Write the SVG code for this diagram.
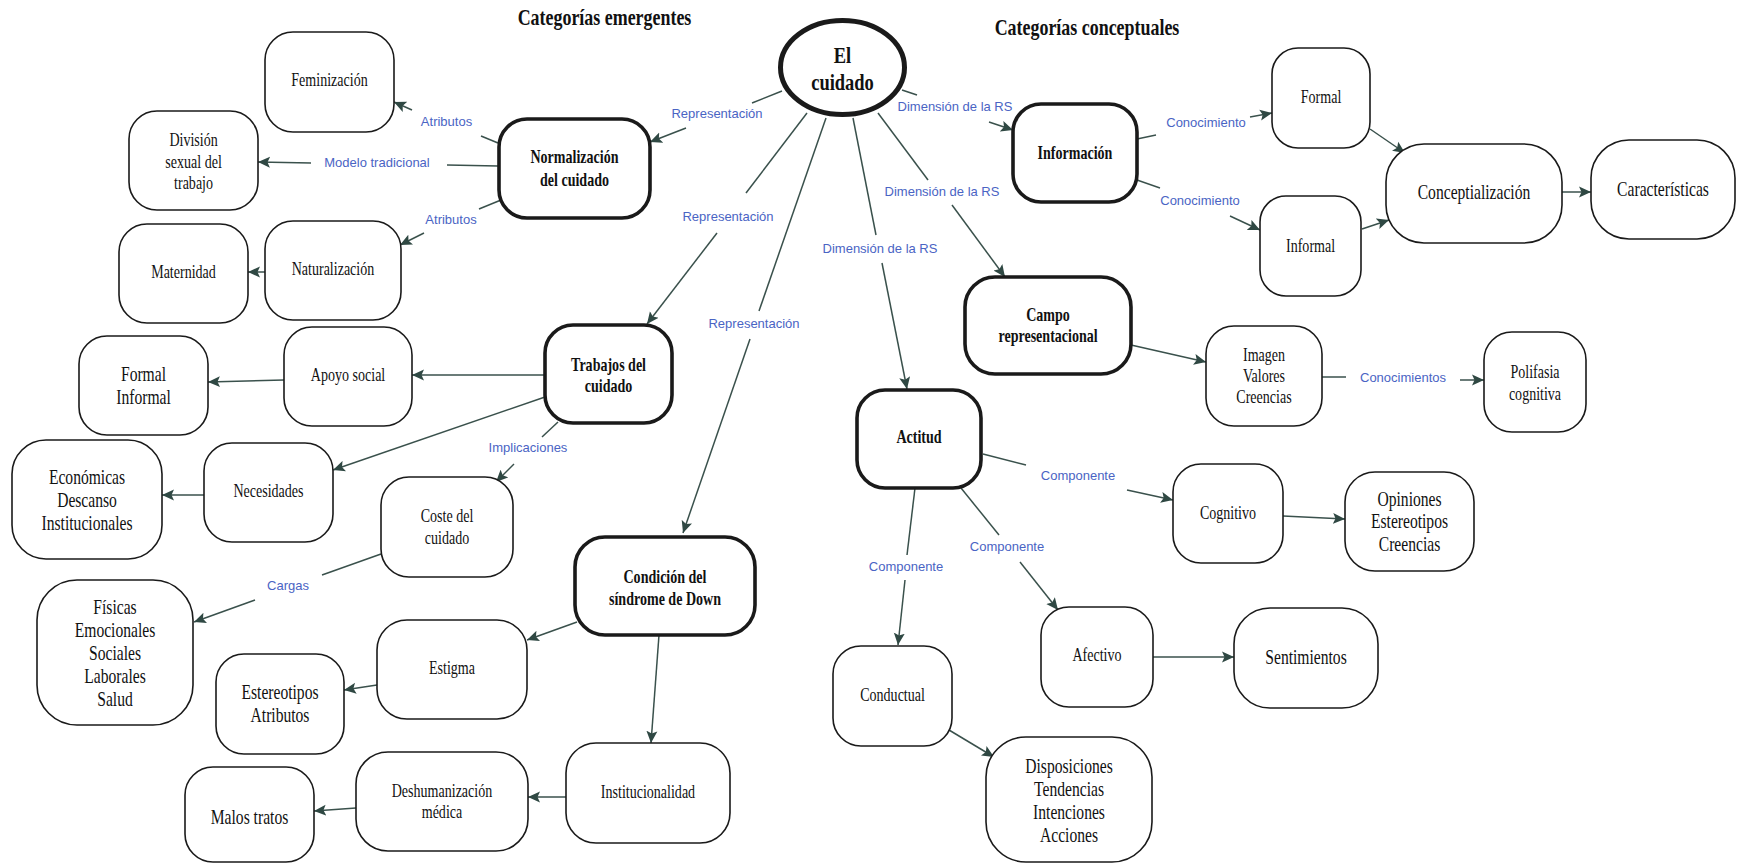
<svg xmlns="http://www.w3.org/2000/svg" width="1738" height="864" viewBox="0 0 1738 864">
  <style>
    .bg { fill: #ffffff; }
    .node rect, .node ellipse { fill: #ffffff; stroke: #1a1a1a; stroke-width: 1.6; }
    .key rect { stroke-width: 3.6; }
    .root ellipse { stroke-width: 5; }
    .nt { font-family: "Liberation Serif", "Times New Roman", serif; fill: #111111; text-anchor: middle;
          transform-box: fill-box; transform-origin: center; transform: scaleX(0.78); }
    .s18 { font-size: 18px; }
    .s20 { font-size: 20px; }
    .b { font-weight: bold; }
    .title { font-family: "Liberation Serif", "Times New Roman", serif; font-weight: bold; font-size: 23px; fill: #111111;
             text-anchor: middle; transform-box: fill-box; transform-origin: center; transform: scaleX(0.78); }
    .rootText { font-family: "Liberation Serif", "Times New Roman", serif; font-weight: bold; font-size: 24px; fill: #111111;
                text-anchor: middle; transform-box: fill-box; transform-origin: center; transform: scaleX(0.77); }
    .links path { fill: none; stroke: #3a514c; stroke-width: 1.5; }
    .links path.arr { marker-end: url(#head); }
    .lbl { font-family: "Liberation Sans", Arial, sans-serif; font-size: 13px; fill: #4a64c4; text-anchor: middle; }
  </style>
  <defs>
    <marker id="head" markerUnits="userSpaceOnUse" markerWidth="14" markerHeight="12" refX="12" refY="6" orient="auto">
      <path d="M0,0.5 L12,6 L0,11.5 L2.5,6 z" fill="#2f4843"/>
    </marker>
  </defs>

  <rect class="bg" x="0" y="0" width="1738" height="864"/>

  <!-- headings -->
  <text class="title" x="604.5" y="25">Categorías emergentes</text>
  <text class="title" x="1087" y="35">Categorías conceptuales</text>

  <!-- connectors and their labels -->
  <g id="connectors" class="links">
    <!-- El cuidado -> Normalización -->
    <path d="M782,91 L752,103"/><path class="arr" d="M686,128 L650,142"/>
    <text class="lbl" x="717" y="117.5">Representación</text>
    <!-- Normalización -> Feminización -->
    <path d="M498,143 L481,136"/><path class="arr" d="M412,110 L394,102"/>
    <text class="lbl" x="446.5" y="126">Atributos</text>
    <!-- Normalización -> División sexual del trabajo -->
    <path d="M498,166 L447,165"/><path class="arr" d="M311,163 L258,162"/>
    <text class="lbl" x="377" y="166.5">Modelo tradicional</text>
    <!-- Normalización -> Naturalización -->
    <path d="M501,200 L479,209"/><path class="arr" d="M424,233 L400,245"/>
    <text class="lbl" x="451" y="223.5">Atributos</text>
    <!-- Naturalización -> Maternidad -->
    <path class="arr" d="M265,272 L248,272"/>
    <!-- El cuidado -> Trabajos del cuidado -->
    <path d="M807,113 L746,193"/><path class="arr" d="M717,233 L647,324"/>
    <text class="lbl" x="728" y="220.5">Representación</text>
    <!-- El cuidado -> Condición del síndrome de Down -->
    <path d="M826,118 L759,311"/><path class="arr" d="M750,339 L683,533"/>
    <text class="lbl" x="754" y="327.5">Representación</text>
    <!-- El cuidado -> Actitud -->
    <path d="M853,118 L876,235"/><path class="arr" d="M882,263 L907,389"/>
    <text class="lbl" x="880" y="252.5">Dimensión de la RS</text>
    <!-- El cuidado -> Campo representacional -->
    <path d="M878,113 L928,180"/><path class="arr" d="M952,205 L1005,277"/>
    <text class="lbl" x="942" y="195.5">Dimensión de la RS</text>
    <!-- El cuidado -> Información -->
    <path d="M902,90 L917,95"/><path class="arr" d="M989,122 L1013,130"/>
    <text class="lbl" x="955" y="110.5">Dimensión de la RS</text>
    <!-- Información -> Formal -->
    <path d="M1137,139 L1156,135"/><path class="arr" d="M1250,117 L1272,113"/>
    <text class="lbl" x="1206" y="126.5">Conocimiento</text>
    <!-- Información -> Informal -->
    <path d="M1137,180 L1160,188"/><path class="arr" d="M1230,216 L1260,230"/>
    <text class="lbl" x="1200" y="204.5">Conocimiento</text>
    <!-- Formal / Informal -> Conceptialización -> Características -->
    <path class="arr" d="M1370,129 L1405,153"/>
    <path class="arr" d="M1362,229 L1389,220"/>
    <path class="arr" d="M1562,192 L1591,192"/>
    <!-- Campo representacional -> Imagen Valores Creencias -->
    <path class="arr" d="M1131,345 L1206,362"/>
    <!-- Imagen Valores Creencias -> Polifasia cognitiva -->
    <path d="M1322,377 L1346,377"/><path class="arr" d="M1460,380 L1484,380"/>
    <text class="lbl" x="1403" y="381.5">Conocimientos</text>
    <!-- Actitud -> Cognitivo -->
    <path d="M983,454 L1026,465"/><path class="arr" d="M1127,490 L1173,500"/>
    <text class="lbl" x="1078" y="479.5">Componente</text>
    <!-- Actitud -> Afectivo -->
    <path d="M961,488 L999,535"/><path class="arr" d="M1020,562 L1058,610"/>
    <text class="lbl" x="1007" y="550.5">Componente</text>
    <!-- Actitud -> Conductual -->
    <path d="M915,488 L907,555"/><path class="arr" d="M905,580 L898,645"/>
    <text class="lbl" x="906" y="570.5">Componente</text>
    <!-- components -> contents -->
    <path class="arr" d="M1283,516 L1345,519"/>
    <path class="arr" d="M1153,657 L1234,657"/>
    <path class="arr" d="M949,730 L994,757"/>
    <!-- Trabajos del cuidado branch -->
    <path class="arr" d="M545,375 L412,375"/>
    <path class="arr" d="M284,380 L208,382"/>
    <path class="arr" d="M545,397 L333,470"/>
    <path d="M558,422 L542,437"/><path class="arr" d="M514,464 L496,482"/>
    <text class="lbl" x="528" y="451.5">Implicaciones</text>
    <path class="arr" d="M204,495 L162,495"/>
    <path d="M381,554 L322,575"/><path class="arr" d="M255,600 L194,622"/>
    <text class="lbl" x="288" y="589.5">Cargas</text>
    <!-- Condición del síndrome de Down branch -->
    <path class="arr" d="M577,622 L527,640"/>
    <path class="arr" d="M377,685 L344,690"/>
    <path class="arr" d="M659,635 L651,743"/>
    <path class="arr" d="M566,797 L528,797"/>
    <path class="arr" d="M356,808 L314,811"/>
  </g>

  <!-- central node -->
  <g id="el-cuidado" class="node root">
    <ellipse cx="842.5" cy="67.5" rx="62" ry="47"/>
    <text class="rootText" x="842.5" y="63"><tspan x="842.5">El</tspan><tspan x="842.5" dy="27">cuidado</tspan></text>
  </g>

  <!-- emergent categories -->
  <g id="feminizacion" class="node">
    <rect x="265" y="32" width="129" height="100" rx="28"/>
    <text class="nt s18" x="329.5" y="86.5">Feminización</text>
  </g>
  <g id="division-sexual" class="node">
    <rect x="129" y="111" width="129" height="99" rx="28"/>
    <text class="nt s18" x="193.5" y="146.5"><tspan x="193.5">División</tspan><tspan x="193.5" dy="21.5">sexual del</tspan><tspan x="193.5" dy="21.5">trabajo</tspan></text>
  </g>
  <g id="normalizacion" class="node key">
    <rect x="499" y="119" width="151" height="99" rx="28"/>
    <text class="nt s18 b" x="574.5" y="163.5"><tspan x="574.5">Normalización</tspan><tspan x="574.5" dy="22.5">del cuidado</tspan></text>
  </g>
  <g id="maternidad" class="node">
    <rect x="119" y="224" width="129" height="99" rx="28"/>
    <text class="nt s18" x="183.5" y="278.5">Maternidad</text>
  </g>
  <g id="naturalizacion" class="node">
    <rect x="265" y="221" width="136" height="99" rx="28"/>
    <text class="nt s18" x="333" y="275">Naturalización</text>
  </g>
  <g id="trabajos" class="node key">
    <rect x="545" y="325" width="127" height="98" rx="28"/>
    <text class="nt s18 b" x="608.5" y="371"><tspan x="608.5">Trabajos del</tspan><tspan x="608.5" dy="21">cuidado</tspan></text>
  </g>
  <g id="apoyo-social" class="node">
    <rect x="284" y="327" width="128" height="99" rx="28"/>
    <text class="nt s18" x="348" y="381.5">Apoyo social</text>
  </g>
  <g id="formal-informal" class="node">
    <rect x="79" y="336" width="129" height="99" rx="28"/>
    <text class="nt s20" x="143.5" y="381"><tspan x="143.5">Formal</tspan><tspan x="143.5" dy="23">Informal</tspan></text>
  </g>
  <g id="necesidades" class="node">
    <rect x="204" y="443" width="129" height="99" rx="28"/>
    <text class="nt s18" x="268.5" y="497.5">Necesidades</text>
  </g>
  <g id="economicas" class="node">
    <rect x="12" y="440" width="150" height="119" rx="34"/>
    <text class="nt s20" x="87" y="484"><tspan x="87">Económicas</tspan><tspan x="87" dy="23">Descanso</tspan><tspan x="87" dy="23">Institucionales</tspan></text>
  </g>
  <g id="coste" class="node">
    <rect x="381" y="477" width="132" height="100" rx="28"/>
    <text class="nt s18" x="447" y="522.5"><tspan x="447">Coste del</tspan><tspan x="447" dy="22">cuidado</tspan></text>
  </g>
  <g id="cargas-tipos" class="node">
    <rect x="37" y="580" width="156" height="145" rx="40"/>
    <text class="nt s20" x="115" y="614"><tspan x="115">Físicas</tspan><tspan x="115" dy="23">Emocionales</tspan><tspan x="115" dy="23">Sociales</tspan><tspan x="115" dy="23">Laborales</tspan><tspan x="115" dy="23">Salud</tspan></text>
  </g>
  <g id="condicion" class="node key">
    <rect x="575" y="537" width="180" height="98" rx="30"/>
    <text class="nt s18 b" x="665" y="583.5"><tspan x="665">Condición del</tspan><tspan x="665" dy="21.5">síndrome de Down</tspan></text>
  </g>
  <g id="estigma" class="node">
    <rect x="377" y="620" width="150" height="99" rx="30"/>
    <text class="nt s18" x="452" y="674.5">Estigma</text>
  </g>
  <g id="estereotipos-atributos" class="node">
    <rect x="216" y="654" width="128" height="100" rx="28"/>
    <text class="nt s20" x="280" y="699"><tspan x="280">Estereotipos</tspan><tspan x="280" dy="23">Atributos</tspan></text>
  </g>
  <g id="institucionalidad" class="node">
    <rect x="566" y="743" width="164" height="100" rx="30"/>
    <text class="nt s18" x="648" y="798.5">Institucionalidad</text>
  </g>
  <g id="deshumanizacion" class="node">
    <rect x="356" y="752" width="172" height="99" rx="32"/>
    <text class="nt s18" x="442" y="797.5"><tspan x="442">Deshumanización</tspan><tspan x="442" dy="21">médica</tspan></text>
  </g>
  <g id="malos-tratos" class="node">
    <rect x="185" y="767" width="129" height="95" rx="28"/>
    <text class="nt s20" x="249.5" y="824">Malos tratos</text>
  </g>

  <!-- conceptual categories -->
  <g id="informacion" class="node key">
    <rect x="1013" y="104" width="124" height="98" rx="28"/>
    <text class="nt s18 b" x="1075" y="159.5">Información</text>
  </g>
  <g id="formal" class="node">
    <rect x="1272" y="48" width="98" height="100" rx="26"/>
    <text class="nt s18" x="1321" y="103.5">Formal</text>
  </g>
  <g id="informal" class="node">
    <rect x="1260" y="196" width="101" height="100" rx="26"/>
    <text class="nt s18" x="1310.5" y="252.5">Informal</text>
  </g>
  <g id="conceptializacion" class="node">
    <rect x="1386" y="144" width="176" height="99" rx="38"/>
    <text class="nt s20" x="1474" y="199">Conceptialización</text>
  </g>
  <g id="caracteristicas" class="node">
    <rect x="1591" y="140" width="144" height="99" rx="38"/>
    <text class="nt s20" x="1663" y="196">Características</text>
  </g>
  <g id="campo" class="node key">
    <rect x="965" y="277" width="166" height="97" rx="30"/>
    <text class="nt s18 b" x="1048" y="321.5"><tspan x="1048">Campo</tspan><tspan x="1048" dy="21">representacional</tspan></text>
  </g>
  <g id="imagen-valores" class="node">
    <rect x="1206" y="326" width="116" height="100" rx="28"/>
    <text class="nt s18" x="1264" y="361.5"><tspan x="1264">Imagen</tspan><tspan x="1264" dy="21">Valores</tspan><tspan x="1264" dy="21">Creencias</tspan></text>
  </g>
  <g id="polifasia" class="node">
    <rect x="1484" y="332" width="102" height="100" rx="28"/>
    <text class="nt s18" x="1535" y="378.5"><tspan x="1535">Polifasia</tspan><tspan x="1535" dy="22">cognitiva</tspan></text>
  </g>
  <g id="actitud" class="node key">
    <rect x="857" y="390" width="124" height="98" rx="28"/>
    <text class="nt s18 b" x="919" y="443.5">Actitud</text>
  </g>
  <g id="cognitivo" class="node">
    <rect x="1173" y="464" width="110" height="99" rx="28"/>
    <text class="nt s18" x="1228" y="519.5">Cognitivo</text>
  </g>
  <g id="opiniones" class="node">
    <rect x="1345" y="472" width="129" height="99" rx="30"/>
    <text class="nt s20" x="1409.5" y="506"><tspan x="1409.5">Opiniones</tspan><tspan x="1409.5" dy="22.5">Estereotipos</tspan><tspan x="1409.5" dy="22.5">Creencias</tspan></text>
  </g>
  <g id="afectivo" class="node">
    <rect x="1041" y="607" width="112" height="100" rx="28"/>
    <text class="nt s18" x="1097" y="661.5">Afectivo</text>
  </g>
  <g id="sentimientos" class="node">
    <rect x="1234" y="608" width="144" height="100" rx="36"/>
    <text class="nt s20" x="1306" y="664">Sentimientos</text>
  </g>
  <g id="conductual" class="node">
    <rect x="833" y="646" width="119" height="100" rx="28"/>
    <text class="nt s18" x="892.5" y="701.5">Conductual</text>
  </g>
  <g id="disposiciones" class="node">
    <rect x="986" y="737" width="166" height="125" rx="40"/>
    <text class="nt s20" x="1069" y="773"><tspan x="1069">Disposiciones</tspan><tspan x="1069" dy="23">Tendencias</tspan><tspan x="1069" dy="23">Intenciones</tspan><tspan x="1069" dy="23">Acciones</tspan></text>
  </g>
</svg>
